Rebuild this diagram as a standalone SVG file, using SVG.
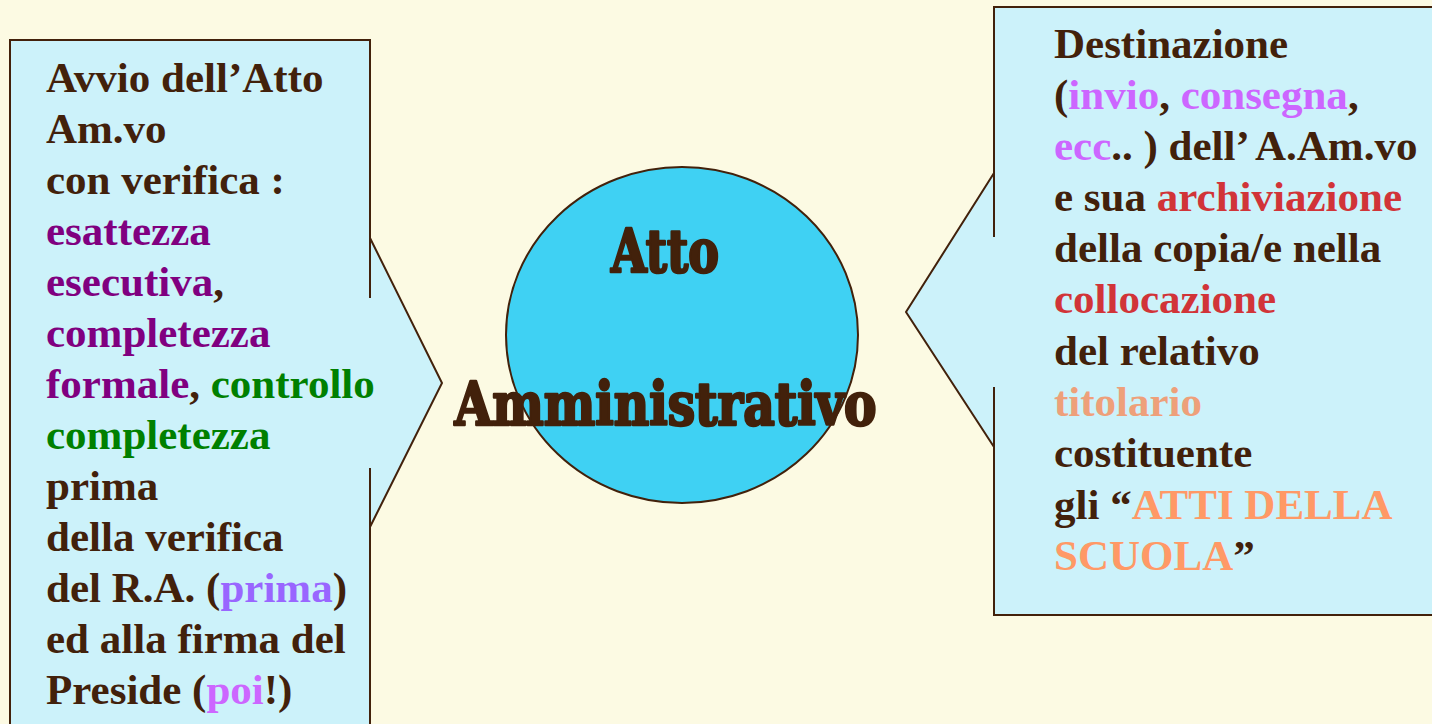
<svg xmlns="http://www.w3.org/2000/svg" width="1432" height="724" viewBox="0 0 1432 724">
<style>
.t{font-family:"Liberation Serif","Times New Roman",serif;font-weight:bold;font-size:43px;fill:#42210B}
.pu{fill:#800080}.gr{fill:#008000}.lp{fill:#9966FF}.pk{fill:#CC66FF}.rd{fill:#D13438}.ti{fill:#EEA07A}.or{fill:#FF9966}
.ln{fill:none;stroke:#42210B;stroke-width:2}
.big{font-family:"DejaVu Serif Condensed","DejaVu Serif",serif;font-weight:bold;font-size:59px;fill:#42210B;stroke:#42210B;stroke-width:2.5;stroke-linejoin:round;text-anchor:middle}
</style>
<rect width="1432" height="724" fill="#FCFAE3"/>
<g id="left">
<path d="M10,40 H370 V238 L442,383 L370,527 V730 H10 Z" fill="#CCF2FA"/>
<path class="ln" d="M370,298 V40 H10 V730"/>
<path class="ln" d="M370,238 L442,383 L370,527"/>
<path class="ln" d="M370,468 V730"/>
<text class="t" x="46" y="92">Avvio dell’Atto</text>
<text class="t" x="46" y="143">Am.vo</text>
<text class="t" x="46" y="194">con verifica :</text>
<text class="t pu" x="46" y="245">esattezza</text>
<text class="t" x="46" y="296"><tspan class="pu">esecutiva</tspan>,</text>
<text class="t pu" x="46" y="347">completezza</text>
<text class="t" x="46" y="398"><tspan class="pu">formale</tspan>, <tspan class="gr">controllo</tspan></text>
<text class="t gr" x="46" y="449">completezza</text>
<text class="t" x="46" y="500">prima</text>
<text class="t" x="46" y="551">della verifica</text>
<text class="t" x="46" y="602">del R.A. (<tspan class="lp">prima</tspan>)</text>
<text class="t" x="46" y="653">ed alla firma del</text>
<text class="t" x="46" y="704">Preside (<tspan class="pk">poi</tspan>!)</text>
</g>
<g id="center">
<ellipse cx="682" cy="335" rx="176" ry="168" fill="#3FD1F3" stroke="#42210B" stroke-width="2"/>
<text class="big" x="665" y="272" textLength="108" lengthAdjust="spacingAndGlyphs">Atto</text>
<text class="big" x="665.5" y="425" textLength="422" lengthAdjust="spacingAndGlyphs">Amministrativo</text>
</g>
<g id="right">
<path d="M994,7 H1440 V615 H994 V447 L906,312 L994,173 Z" fill="#CCF2FA"/>
<path class="ln" d="M994,237 V7 H1440"/>
<path class="ln" d="M994,173 L906,312 L994,447"/>
<path class="ln" d="M994,387 V615 H1440"/>
<text class="t" x="1054" y="58">Destinazione</text>
<text class="t" x="1054" y="109">(<tspan class="pk">invio</tspan>, <tspan class="pk">consegna</tspan>,</text>
<text class="t" x="1054" y="160"><tspan class="pk">ecc</tspan>.. ) dell’ A.Am.vo</text>
<text class="t" x="1054" y="211">e sua <tspan class="rd">archiviazione</tspan></text>
<text class="t" x="1054" y="262">della copia/e nella</text>
<text class="t rd" x="1054" y="313">collocazione</text>
<text class="t" x="1054" y="365">del relativo</text>
<text class="t ti" x="1054" y="416">titolario</text>
<text class="t" x="1054" y="467">costituente</text>
<text class="t" x="1054" y="519">gli “<tspan class="or">ATTI DELLA</tspan></text>
<text class="t" x="1054" y="570"><tspan class="or">SCUOLA</tspan>”</text>
</g>
</svg>
